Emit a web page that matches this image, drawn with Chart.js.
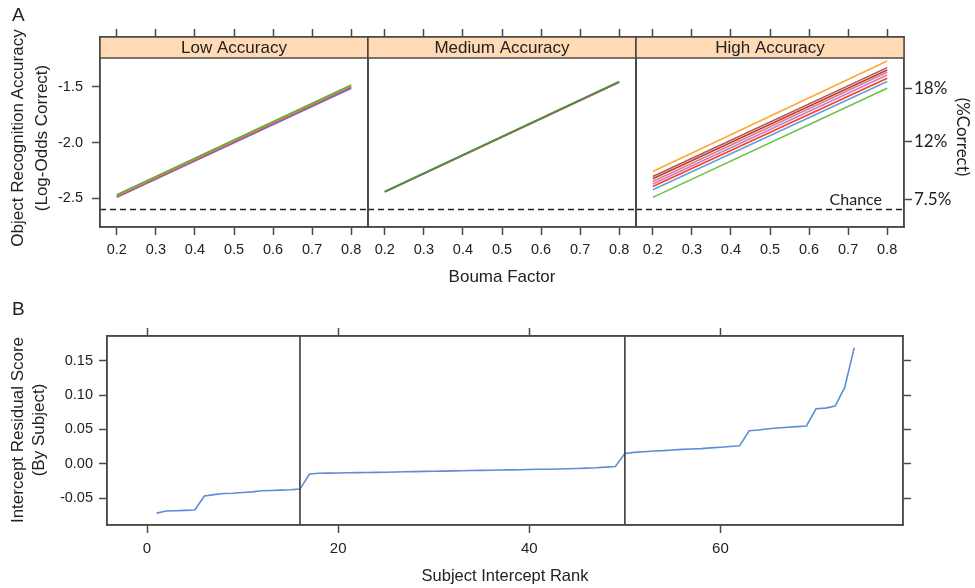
<!DOCTYPE html>
<html>
<head>
<meta charset="utf-8">
<script src="https://cdn.jsdelivr.net/npm/chart.js@4.4.1/dist/chart.umd.min.js"></script>
<style>
  html, body { margin:0; padding:0; background:#fff; }
  #page { position:relative; width:975px; height:588px; overflow:hidden;
          font-family:"Liberation Sans", Arial, sans-serif; color:#222; }
  .box { position:absolute; }
  .lbl { position:absolute; white-space:nowrap; text-align:center; }
</style>
</head>
<body>
<div id="page">
  <div class="box" style="left:0;top:0;width:370px;height:260px"><canvas id="cLow"></canvas></div>
  <div class="box" style="left:366px;top:0;width:272px;height:260px"><canvas id="cMed"></canvas></div>
  <div class="box" style="left:634px;top:0;width:341px;height:260px"><canvas id="cHigh"></canvas></div>
  <div class="box" style="left:0;top:300px;width:913px;height:288px"><canvas id="cRank"></canvas></div>

  <div class="lbl" style="left:12px;top:4px;font-size:19px">A</div>
  <div class="lbl" style="left:12px;top:298px;font-size:19px">B</div>
  <div class="lbl" style="left:-100px;top:114px;width:260px;height:48px;line-height:24px;font-size:17px;transform:rotate(-90deg)">Object Recognition Accuracy<br>(Log-Odds Correct)</div>
  <div class="lbl" style="left:-102px;top:409px;width:260px;height:42px;line-height:21px;font-size:17px;transform:rotate(-90deg)">Intercept Residual Score<br>(By Subject)</div>
  <div class="lbl" style="left:903px;top:125px;width:120px;height:24px;line-height:24px;font-size:17px;font-family:Lato,sans-serif;transform:rotate(90deg)">(%Correct)</div>
  <div class="lbl" style="left:402px;top:267px;width:200px;font-size:17px">Bouma Factor</div>
  <div class="lbl" style="left:385px;top:566px;width:240px;font-size:16.5px">Subject Intercept Rank</div>
</div>

<script>
/* ── Panel A data : log-odds fits at Bouma 0.2 and 0.8 ── */
const boumaX     = [0.2, 0.8];
const boumaTicks = [0.2, 0.3, 0.4, 0.5, 0.6, 0.7, 0.8];
const logOddsTicks = [-2.5, -2.0, -1.5];
const pctTicks   = [7.5, 12, 18];
const chanceLogOdds = -2.6;

// first row is drawn on top
const lowAcc  = [[-2.467,-1.485],[-2.474,-1.492],[-2.481,-1.500],[-2.486,-1.507],[-2.491,-1.514]];
const medAcc  = [[-2.438,-1.455],[-2.441,-1.458],[-2.443,-1.460]];
const highAcc = [[-2.259,-1.271],[-2.304,-1.330],[-2.324,-1.351],[-2.348,-1.371],
                 [-2.371,-1.396],[-2.393,-1.425],[-2.422,-1.455],[-2.491,-1.514]];

const lowColors  = ['#5DB043','#F08A3A','#E0504A','#9A5FC8','#4A74D0'];
const medColors  = ['#3E9A3E','#B84868','#E05060'];
const highColors = ['#FFA833','#B05A50','#C03838','#D88080','#CC7AC8','#FF3C1E','#5DA0E0','#6CC04A'];

/* ── Panel B data : subject intercept residuals, by rank ── */
const rankTicks = [0, 20, 40, 60];
const residTicks = [-0.05, 0.00, 0.05, 0.10, 0.15];
const groupBreaks = [16, 50];
const residuals = [
  -0.072,-0.069,-0.0685,-0.068,-0.0675,-0.047,-0.045,-0.0435,-0.043,-0.042,
  -0.041,-0.0395,-0.039,-0.0385,-0.038,-0.037,-0.015,-0.014,-0.0138,-0.0135,
  -0.0132,-0.013,-0.0128,-0.0126,-0.0124,-0.012,-0.0118,-0.0115,-0.0112,-0.011,
  -0.0108,-0.0105,-0.0102,-0.010,-0.0098,-0.0095,-0.0092,-0.009,-0.0088,-0.0085,
  -0.0082,-0.008,-0.0077,-0.0073,-0.007,-0.0065,-0.006,-0.005,-0.004,0.015,
  0.0165,0.0175,0.0185,0.019,0.020,0.0208,0.0215,0.022,0.023,0.024,
  0.025,0.026,0.048,0.049,0.051,0.052,0.053,0.054,0.055,0.080,
  0.081,0.084,0.111,0.169
];

/* ── Axis ranges (lattice padding) ── */
const A_XMIN = 0.157, A_XMAX = 0.843, A_YMIN = -2.756, A_YMAX = -1.056;
const B_XMIN = -4.19, B_XMAX = 79.1,  B_YMIN = -0.0893, B_YMAX = 0.186;
const STRIP_H = 21;
const FRAME = '#4a4a4a';

Chart.defaults.font.family = '"Liberation Sans", Arial, sans-serif';
Chart.defaults.color = '#222';

const fixSize = n => s => { if (s.isHorizontal()) s.height = n; else s.width = n; };

function axis(pos, min, max, size, tickVals, opts) {
  opts = opts || {};
  return {
    type:'linear', position:pos, min:min, max:max,
    afterBuildTicks: s => { s.ticks = (tickVals||[]).map(v => ({ value:v })); },
    afterFit: fixSize(size),
    grid:{ drawOnChartArea:false, drawTicks:!!tickVals, tickLength:8, tickColor:FRAME, tickWidth:1.5 },
    border:{ display:true, color:FRAME, width:1.5 },
    ticks:{ display:!!opts.labels, color:opts.color||'#222', font:opts.font||{ size:15 },
            padding:opts.padding==null?6:opts.padding, autoSkip:false, maxRotation:0,
            callback:opts.fmt }
  };
}

/* ── Plugins ── */
const framePlugin = {
  id:'frame',
  afterDatasetsDraw(chart) {
    const { ctx, chartArea:a } = chart;
    ctx.save(); ctx.strokeStyle = FRAME; ctx.lineWidth = 1.5;
    ctx.strokeRect(a.left, a.top, a.right-a.left, a.bottom-a.top);
    ctx.restore();
  }
};
const stripPlugin = {
  id:'strip',
  beforeDatasetsDraw(chart, args, o) {
    const { ctx, chartArea:a } = chart;
    ctx.save();
    ctx.fillStyle = '#FFDAB4';
    ctx.fillRect(a.left, a.top, a.right-a.left, STRIP_H);
    ctx.strokeStyle = FRAME; ctx.lineWidth = 1.5;
    ctx.beginPath(); ctx.moveTo(a.left, a.top+STRIP_H); ctx.lineTo(a.right, a.top+STRIP_H); ctx.stroke();
    ctx.fillStyle = '#222'; ctx.font = '17px "Liberation Sans", Arial, sans-serif';
    ctx.textAlign = 'center'; ctx.textBaseline = 'middle';
    ctx.fillText(o.text, (a.left+a.right)/2, a.top + STRIP_H/2 + 1);
    ctx.restore();
  }
};
const chancePlugin = {
  id:'chance',
  afterDatasetsDraw(chart, args, o) {
    if (!o.show) return;
    const { ctx, chartArea:a } = chart;
    const y = chart.scales.y.getPixelForValue(chanceLogOdds);
    ctx.save(); ctx.fillStyle = '#222'; ctx.font = '16px Lato, sans-serif';
    ctx.textAlign = 'right'; ctx.textBaseline = 'alphabetic';
    ctx.fillText('Chance', a.right - 22, y - 5);
    ctx.restore();
  }
};

/* ── Panel A ── */
function fitLines(rows, colors) {
  return rows.map((r, i) => ({
    data: boumaX.map((x, j) => ({ x:x, y:r[j] })),
    borderColor: colors[i], borderWidth: 1.6, pointRadius: 0
  }));
}
function chanceLine() {
  return { data:[{ x:A_XMIN, y:chanceLogOdds }, { x:A_XMAX, y:chanceLogOdds }],
           borderColor:'#222', borderWidth:1.4, borderDash:[6,4], pointRadius:0 };
}

function panelA(id, title, rows, colors, side) {
  const first = side === 'left', last = side === 'right';
  const fmt1 = v => v.toFixed(1);
  return new Chart(document.getElementById(id), {
    type:'line',
    data:{ datasets:[chanceLine(), ...fitLines(rows, colors)] },
    options:{
      responsive:true, maintainAspectRatio:false, animation:false,
      layout:{ padding:0 },
      plugins:{ legend:{ display:false }, tooltip:{ enabled:false },
                strip:{ text:title }, chance:{ show:last } },
      scales:{
        x:  axis('bottom', A_XMIN, A_XMAX, 33, boumaTicks, { labels:true, fmt:fmt1, padding:6, font:{ size:14.5 } }),
        x2: axis('top',    A_XMIN, A_XMAX, 37, boumaTicks),
        y:  axis('left',   A_YMIN, A_YMAX, first ? 100 : 2, first ? logOddsTicks : null,
                 { labels:first, fmt:fmt1, padding:9, font:{ size:14.5 } }),
        y2: axis('right',  A_YMIN, A_YMAX, last ? 71 : 2,
                 last ? pctTicks.map(p => Math.log(p/(100-p))) : null,
                 { labels:last, fmt:(v,i) => pctTicks[i] + '%', padding:2,
                   font:{ size:17, family:'Lato, sans-serif' }, color:'#222' })
      }
    },
    plugins:[stripPlugin, chancePlugin, framePlugin]
  });
}

panelA('cLow',  'Low Accuracy',    lowAcc,  lowColors,  'left');
panelA('cMed',  'Medium Accuracy', medAcc,  medColors,  'mid');
panelA('cHigh', 'High Accuracy',   highAcc, highColors, 'right');

/* ── Panel B ── */
new Chart(document.getElementById('cRank'), {
  type:'line',
  data:{ datasets:[
    ...groupBreaks.map(b => ({ data:[{ x:b, y:B_YMIN }, { x:b, y:B_YMAX }],
                               borderColor:'#3a3a3a', borderWidth:1.6, pointRadius:0 })),
    { data: residuals.map((v, i) => ({ x:i+1, y:v })),
      borderColor:'#5B8ED6', borderWidth:1.6, pointRadius:0, tension:0 }
  ] },
  options:{
    responsive:true, maintainAspectRatio:false, animation:false,
    layout:{ padding:0 },
    plugins:{ legend:{ display:false }, tooltip:{ enabled:false } },
    scales:{
      x:  axis('bottom', B_XMIN, B_XMAX, 63, rankTicks, { labels:true, fmt:v => String(v), padding:7 }),
      x2: axis('top',    B_XMIN, B_XMAX, 36, rankTicks),
      y:  axis('left',   B_YMIN, B_YMAX, 107, residTicks, { labels:true, fmt:v => v.toFixed(2), padding:6, font:{ size:14.5 } }),
      y2: axis('right',  B_YMIN, B_YMAX, 10, residTicks)
    }
  },
  plugins:[framePlugin]
});
</script>
</body>
</html>
